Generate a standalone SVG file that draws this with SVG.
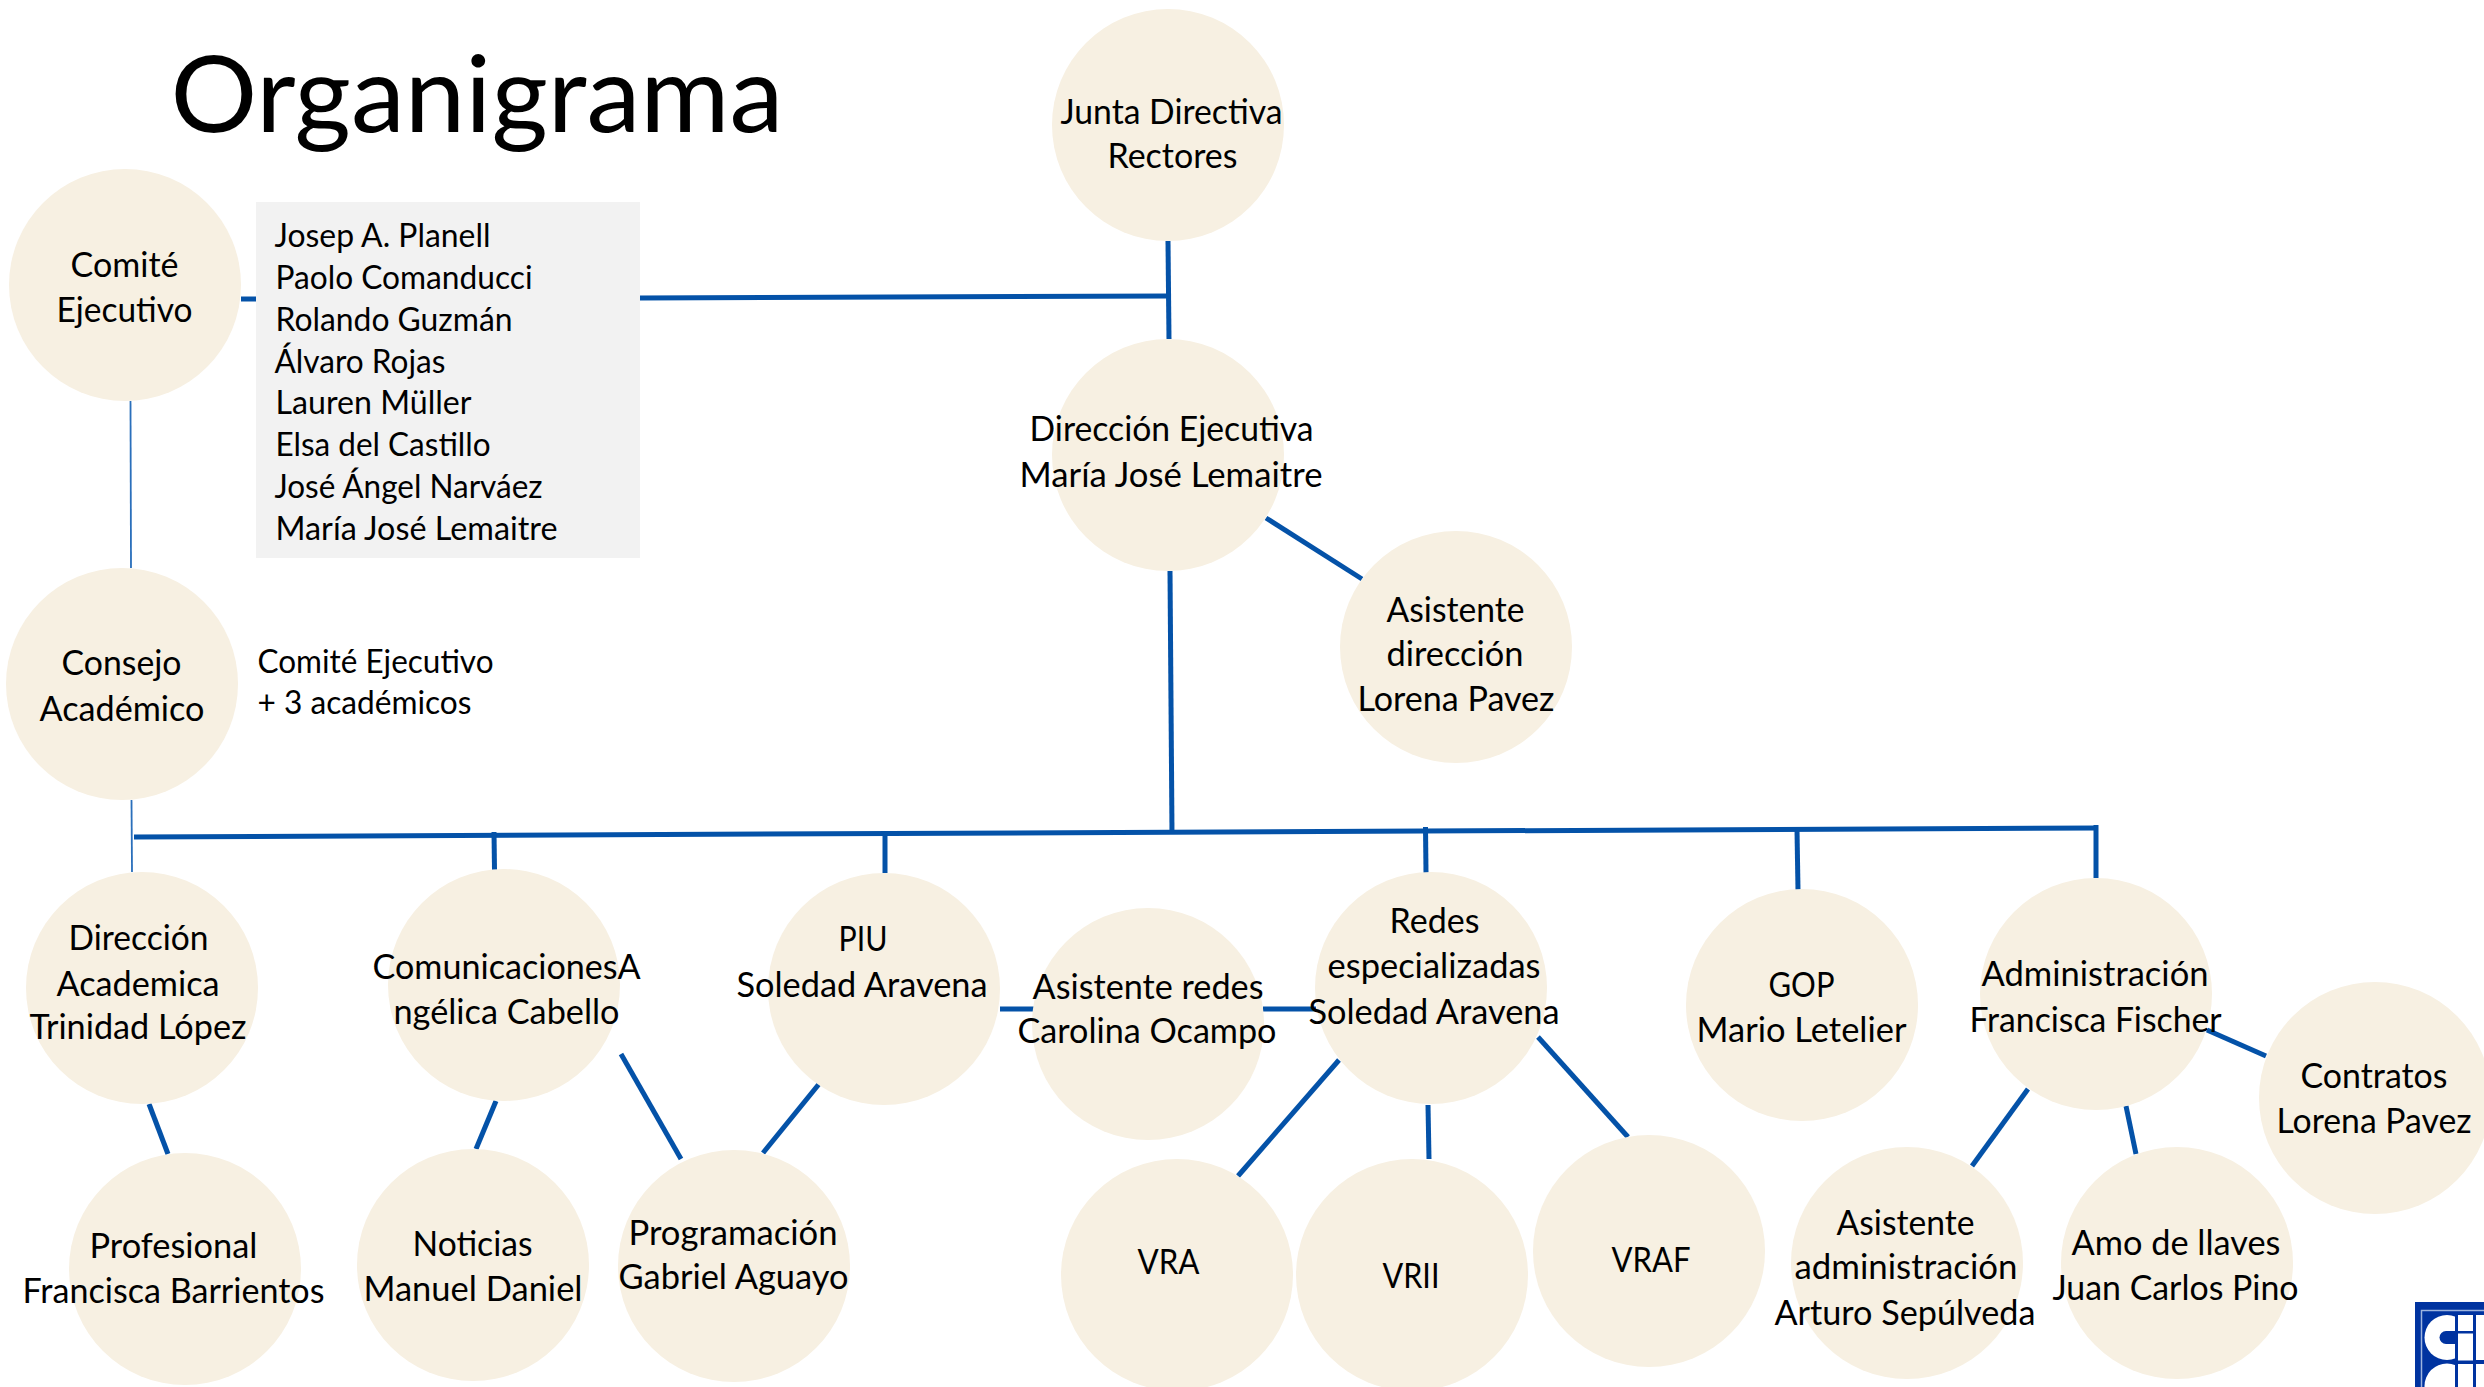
<svg xmlns="http://www.w3.org/2000/svg" width="2484" height="1387" viewBox="0 0 2484 1387">
<style>
text{font-family:Lato,"Liberation Sans",sans-serif;font-size:34px;fill:#000;transform:translate(-.5px,2px)}
text.l{font-size:32px}
text.title{font-size:107px}
ellipse{fill:#f7f0e2}
#connectors line{stroke:#0452a8;stroke-width:5;fill:none}
#connectors line.thin{stroke:#2a6fbb;stroke-width:1.8}
#logo .b{fill:#0033a0}
#logo .w{fill:#fff}
</style>
<rect width="2484" height="1387" fill="#fff"/>
<text id="title" class="title" x="171" y="130" textLength="613" lengthAdjust="spacingAndGlyphs">Organigrama</text>
<g id="connectors">
<line x1="241" y1="299" x2="256" y2="299"/>
<line x1="640" y1="298" x2="1168" y2="296"/>
<line x1="1168" y1="241" x2="1169" y2="339"/>
<line x1="1170" y1="571" x2="1172" y2="833"/>
<line x1="1266" y1="518" x2="1362" y2="579"/>
<line class="thin" x1="130.500" y1="401" x2="131" y2="568"/>
<line class="thin" x1="131.500" y1="800" x2="132" y2="872"/>
<line x1="134" y1="837" x2="2098" y2="828"/>
<line x1="494" y1="832" x2="494.500" y2="870"/>
<line x1="885" y1="832" x2="885" y2="873"/>
<line x1="1425.500" y1="827" x2="1426" y2="873"/>
<line x1="1797" y1="830" x2="1798" y2="890"/>
<line x1="2096" y1="825" x2="2096" y2="878"/>
<line x1="149" y1="1104" x2="168" y2="1154"/>
<line x1="496" y1="1101" x2="476" y2="1149"/>
<line x1="621" y1="1054" x2="681" y2="1159"/>
<line x1="819" y1="1084" x2="763" y2="1153"/>
<line x1="1000" y1="1009" x2="1034" y2="1009"/>
<line x1="1263" y1="1009" x2="1316" y2="1009"/>
<line x1="1339" y1="1060" x2="1238" y2="1176"/>
<line x1="1428" y1="1105" x2="1429" y2="1159"/>
<line x1="1538" y1="1037" x2="1628" y2="1137"/>
<line x1="2207" y1="1030" x2="2266" y2="1056"/>
<line x1="2028" y1="1089" x2="1972" y2="1166"/>
<line x1="2126" y1="1106" x2="2136" y2="1154"/>
</g>
<g id="comite-lista">
<rect x="256" y="202" width="384" height="356" fill="#f2f2f2"/>
<text class="l" x="275" y="245" textLength="216" lengthAdjust="spacingAndGlyphs">Josep A. Planell</text>
<text class="l" x="276" y="287" textLength="257" lengthAdjust="spacingAndGlyphs">Paolo Comanducci</text>
<text class="l" x="276" y="329" textLength="237" lengthAdjust="spacingAndGlyphs">Rolando Guzmán</text>
<text class="l" x="275" y="371" textLength="171" lengthAdjust="spacingAndGlyphs">Álvaro Rojas</text>
<text class="l" x="276" y="412" textLength="196" lengthAdjust="spacingAndGlyphs">Lauren Müller</text>
<text class="l" x="276" y="454" textLength="215" lengthAdjust="spacingAndGlyphs">Elsa del Castillo</text>
<text class="l" x="275" y="496" textLength="268" lengthAdjust="spacingAndGlyphs">José Ángel Narváez</text>
<text class="l" x="276" y="538" textLength="282" lengthAdjust="spacingAndGlyphs">María José Lemaitre</text>
</g>
<g id="consejo-nota">
<text class="l" x="258" y="671" textLength="236" lengthAdjust="spacingAndGlyphs">Comité Ejecutivo</text>
<text class="l" x="258" y="712" textLength="214" lengthAdjust="spacingAndGlyphs">+ 3 académicos</text>
</g>
<g id="junta"><ellipse cx="1168" cy="125" rx="116" ry="116"/>
<text x="1061" y="122" textLength="222" lengthAdjust="spacingAndGlyphs">Junta Directiva</text>
<text x="1108" y="166" textLength="130" lengthAdjust="spacingAndGlyphs">Rectores</text></g>
<g id="direccion-ejecutiva"><ellipse cx="1168" cy="455" rx="116" ry="116"/>
<text x="1030" y="439" textLength="284" lengthAdjust="spacingAndGlyphs">Dirección Ejecutiva</text>
<text x="1020" y="485" textLength="303" lengthAdjust="spacingAndGlyphs">María José Lemaitre</text></g>
<g id="asistente-direccion"><ellipse cx="1456" cy="647" rx="116" ry="116"/>
<text x="1387" y="620" textLength="138" lengthAdjust="spacingAndGlyphs">Asistente</text>
<text x="1387" y="664" textLength="137" lengthAdjust="spacingAndGlyphs">dirección</text>
<text x="1358" y="709" textLength="197" lengthAdjust="spacingAndGlyphs">Lorena Pavez</text></g>
<g id="comite"><ellipse cx="125" cy="285" rx="116" ry="116"/>
<text x="71" y="275" textLength="108" lengthAdjust="spacingAndGlyphs">Comité</text>
<text x="57" y="320" textLength="136" lengthAdjust="spacingAndGlyphs">Ejecutivo</text></g>
<g id="consejo"><ellipse cx="122" cy="684" rx="116" ry="116"/>
<text x="62" y="673" textLength="120" lengthAdjust="spacingAndGlyphs">Consejo</text>
<text x="40" y="719" textLength="165" lengthAdjust="spacingAndGlyphs">Académico</text></g>
<g id="direccion-academica"><ellipse cx="142" cy="988" rx="116" ry="116"/>
<text x="69" y="948" textLength="140" lengthAdjust="spacingAndGlyphs">Dirección</text>
<text x="57" y="994" textLength="163" lengthAdjust="spacingAndGlyphs">Academica</text>
<text x="30" y="1037" textLength="217" lengthAdjust="spacingAndGlyphs">Trinidad López</text></g>
<g id="profesional"><ellipse cx="185" cy="1269" rx="116" ry="116"/>
<text x="90" y="1256" textLength="168" lengthAdjust="spacingAndGlyphs">Profesional</text>
<text x="23" y="1301" textLength="302" lengthAdjust="spacingAndGlyphs">Francisca Barrientos</text></g>
<g id="comunicaciones"><ellipse cx="504" cy="985" rx="116" ry="116"/>
<text x="373" y="977" textLength="268" lengthAdjust="spacingAndGlyphs">ComunicacionesA</text>
<text x="394" y="1022" textLength="226" lengthAdjust="spacingAndGlyphs">ngélica Cabello</text></g>
<g id="noticias"><ellipse cx="473" cy="1265" rx="116" ry="116"/>
<text x="413" y="1254" textLength="120" lengthAdjust="spacingAndGlyphs">Noticias</text>
<text x="364" y="1299" textLength="219" lengthAdjust="spacingAndGlyphs">Manuel Daniel</text></g>
<g id="programacion"><ellipse cx="734" cy="1266" rx="116" ry="116"/>
<text x="629" y="1243" textLength="209" lengthAdjust="spacingAndGlyphs">Programación</text>
<text x="619" y="1287" textLength="230" lengthAdjust="spacingAndGlyphs">Gabriel Aguayo</text></g>
<g id="piu"><ellipse cx="884" cy="989" rx="116" ry="116"/>
<text x="839" y="949" textLength="49" lengthAdjust="spacingAndGlyphs">PIU</text>
<text x="737" y="995" textLength="251" lengthAdjust="spacingAndGlyphs">Soledad Aravena</text></g>
<g id="asistente-redes"><ellipse cx="1148" cy="1024" rx="116" ry="116"/>
<text x="1033" y="997" textLength="231" lengthAdjust="spacingAndGlyphs">Asistente redes</text>
<text x="1018" y="1041" textLength="259" lengthAdjust="spacingAndGlyphs">Carolina Ocampo</text></g>
<g id="redes"><ellipse cx="1431" cy="988" rx="116" ry="116"/>
<text x="1390" y="931" textLength="90" lengthAdjust="spacingAndGlyphs">Redes</text>
<text x="1328" y="976" textLength="213" lengthAdjust="spacingAndGlyphs">especializadas</text>
<text x="1309" y="1022" textLength="251" lengthAdjust="spacingAndGlyphs">Soledad Aravena</text></g>
<g id="vra"><ellipse cx="1177" cy="1275" rx="116" ry="116"/>
<text x="1138" y="1272" textLength="62" lengthAdjust="spacingAndGlyphs">VRA</text></g>
<g id="vrii"><ellipse cx="1412" cy="1275" rx="116" ry="116"/>
<text x="1383" y="1286" textLength="57" lengthAdjust="spacingAndGlyphs">VRII</text></g>
<g id="vraf"><ellipse cx="1649" cy="1251" rx="116" ry="116"/>
<text x="1612" y="1270" textLength="79" lengthAdjust="spacingAndGlyphs">VRAF</text></g>
<g id="gop"><ellipse cx="1802" cy="1005" rx="116" ry="116"/>
<text x="1769" y="995" textLength="66" lengthAdjust="spacingAndGlyphs">GOP</text>
<text x="1697" y="1040" textLength="210" lengthAdjust="spacingAndGlyphs">Mario Letelier</text></g>
<g id="administracion"><ellipse cx="2096" cy="994" rx="116" ry="116"/>
<text x="1982" y="984" textLength="227" lengthAdjust="spacingAndGlyphs">Administración</text>
<text x="1970" y="1030" textLength="252" lengthAdjust="spacingAndGlyphs">Francisca Fischer</text></g>
<g id="contratos"><ellipse cx="2375" cy="1098" rx="116" ry="116"/>
<text x="2301" y="1086" textLength="147" lengthAdjust="spacingAndGlyphs">Contratos</text>
<text x="2277" y="1131" textLength="195" lengthAdjust="spacingAndGlyphs">Lorena Pavez</text></g>
<g id="asistente-administracion"><ellipse cx="1907" cy="1263" rx="116" ry="116"/>
<text x="1837" y="1233" textLength="138" lengthAdjust="spacingAndGlyphs">Asistente</text>
<text x="1795" y="1277" textLength="223" lengthAdjust="spacingAndGlyphs">administración</text>
<text x="1775" y="1323" textLength="261" lengthAdjust="spacingAndGlyphs">Arturo Sepúlveda</text></g>
<g id="amo-llaves"><ellipse cx="2177" cy="1263" rx="116" ry="116"/>
<text x="2072" y="1253" textLength="209" lengthAdjust="spacingAndGlyphs">Amo de llaves</text>
<text x="2053" y="1298" textLength="246" lengthAdjust="spacingAndGlyphs">Juan Carlos Pino</text></g>
<g id="logo">
<rect class="b" x="2415" y="1302" width="69" height="85"/>
<rect x="2421.500" y="1310.500" width="70" height="90" fill="none" stroke="#9db4de" stroke-width="1.500"/>
<circle class="w" cx="2447" cy="1337.500" r="22.500"/>
<rect class="b" x="2455" y="1312" width="3" height="52"/>
<rect class="b" x="2458" y="1312" width="29" height="50"/>
<rect class="b" x="2446" y="1331" width="12" height="13"/>
<circle class="b" cx="2446" cy="1337.500" r="6.500"/>
<rect class="w" x="2458" y="1315" width="15" height="16"/>
<rect class="w" x="2458" y="1333.500" width="15" height="27"/>
<rect class="w" x="2476" y="1315" width="8" height="45"/>
<circle class="w" cx="2447" cy="1386" r="22.500"/>
<rect class="b" x="2455" y="1362" width="30" height="25"/>
<rect class="w" x="2458" y="1364" width="15" height="23"/>
<rect class="w" x="2476" y="1364" width="8" height="23"/>
</g>
</svg>
